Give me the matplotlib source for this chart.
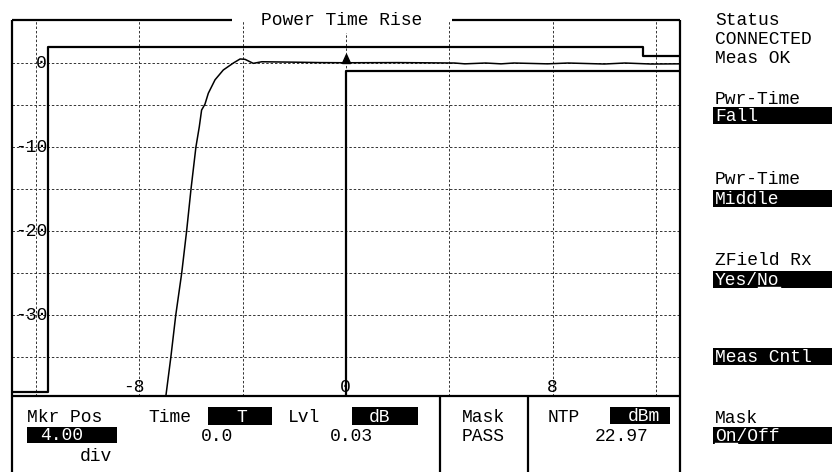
import matplotlib.pyplot as plt
from matplotlib.transforms import blended_transform_factory

# rise trace: time (bits) vs level (dB)
trace_t = [-7.3, -6.98, -6.78, -6.59, -6.36, -6.17, -6.0, -5.81, -5.68, -5.59, -5.46,
           -5.33, -5.07, -4.75, -4.36, -4.1, -3.91, -3.59, -3.26, -2.0, -1.0, 0.0,
           2.0, 4.2, 4.6, 5.4, 6.0, 6.5, 7.8, 8.6, 10.0, 10.8, 11.8, 12.93]
trace_db = [-45, -39.8, -35, -30, -25, -20, -15, -10, -7.6, -5.6, -4.9,
            -3.6, -2.0, -0.83, 0.0, 0.48, 0.44, -0.04, 0.15, 0.1, 0.05, 0.03,
            0.05, 0.0, -0.1, 0.0, -0.1, 0.0, -0.1, 0.0, -0.12, 0.0, -0.12, -0.1]

# limit mask
mask_hi_t = [-12.93, -11.54, -11.54, 11.5, 11.5, 12.93]
mask_hi_db = [-39.2, -39.2, 1.9, 1.9, 0.85, 0.85]
mask_lo_t = [0.0, 0.0, 12.93]
mask_lo_db = [-39.64, -1.0, -1.0]

# marker
mkr_t, mkr_db = 0.0, 0.03

x_grid = [-12, -8, -4, 0, 4, 8, 12]
y_grid = [0, -5, -10, -15, -20, -25, -30, -35]
x_labels = [-8, 0, 8]
y_labels = [0, -10, -20, -30]

FONT = 'Liberation Mono'
FS = 13
W, H = 832, 472

fig = plt.figure(figsize=(W / 100, H / 100), dpi=100)

# data axes
ax = fig.add_axes([12 / W, 1 - 396 / H, 668 / W, 376 / H], zorder=1)
ax.set_xlim(-12.93, 12.93)
ax.set_ylim(-39.64, 5.12)
ax.set_xticks(x_grid)
ax.set_yticks(y_grid)
ax.grid(True, color='#333333', lw=0.7, linestyle=(0, (2.5, 2)))
ax.tick_params(length=0, labelbottom=False, labelleft=False)
for s in ax.spines.values():
    s.set_visible(False)
ax.set_facecolor('none')

ax.plot(trace_t, trace_db, color='black', lw=1.1, zorder=4)
ax.plot(mask_hi_t, mask_hi_db, color='black', lw=1.6, zorder=4)
ax.plot(mask_lo_t, mask_lo_db, color='black', lw=1.6, zorder=4)
ax.plot([mkr_t], [mkr_db], marker=[(-1, 0), (1, 0), (0, 2.2), (-1, 0)],
        markersize=13, color='black', zorder=5)

tr = blended_transform_factory(ax.transAxes, ax.transData)
for v in y_labels:
    ax.text((47 - 12) / 668, v, str(v).replace('-', '−') if False else str(v),
            transform=tr, ha='right', va='center', family=FONT, fontsize=FS, zorder=5)
for v in x_labels:
    ax.annotate(str(v), xy=(v, -39.64), xytext=(5, 4), textcoords='offset pixels',
                ha='right', va='baseline', family=FONT, fontsize=FS, zorder=5)

# overlay in pixel coordinates for frame, panels and text
px = fig.add_axes([0, 0, 1, 1], zorder=3)
px.set_xlim(0, W)
px.set_ylim(H, 0)
px.axis('off')

kw = dict(color='black', lw=1.6, solid_capstyle='butt')
px.plot([11.5, 11.5], [20, H], **kw)
px.plot([680, 680], [20, H], **kw)
px.plot([11.5, 232], [20, 20], **kw)
px.plot([452, 680], [20, 20], **kw)
px.plot([11.5, 680], [396, 396], **kw)
px.plot([440, 440], [396, H], **kw)
px.plot([528, 528], [396, H], **kw)

px.text(342, 25, 'Power Time Rise', ha='center', va='baseline', family=FONT, fontsize=FS,
        bbox=dict(fc='white', ec='none', pad=3))


def label(x, y, s, ha='left', color='black'):
    px.text(x, y, s, ha=ha, va='baseline', family=FONT, fontsize=FS, color=color)


def box(x0, x1, y0, y1):
    px.fill([x0, x1, x1, x0], [y0, y0, y1, y1], color='black', lw=0)


# soft keys on the right
label(715, 25, 'Status')
label(715, 44, 'CONNECTED')
label(715, 63, 'Meas OK')
label(715, 104, 'Pwr-Time')
box(713, 832, 107, 124)
label(715, 121, 'Fall', color='white')
label(715, 184, 'Pwr-Time')
box(713, 832, 190, 207)
label(715, 204, 'Middle', color='white')
label(715, 265, 'ZField Rx')
box(713, 832, 271, 288)
label(715, 285, 'Yes/No', color='white')
px.plot([715 + 4 * 10.83, 715 + 6 * 10.83], [287, 287], color='white', lw=1)
box(713, 832, 348, 365)
label(715, 362, 'Meas Cntl', color='white')
label(715, 423, 'Mask')
box(713, 832, 427, 444)
label(715, 441, 'On/Off', color='white')
px.plot([715, 715 + 2 * 10.83], [443, 443], color='white', lw=1)

# bottom readout panel
label(27, 422, 'Mkr Pos')
box(27, 117, 427, 443)
label(40, 440, '4.00', color='white')
label(80, 461, 'div')
label(148, 422, 'Time')
box(208, 272, 407, 425)
label(242, 422, 'T', ha='center', color='white')
label(233, 441, '0.0', ha='right')
label(288, 422, 'Lvl')
box(352, 418, 407, 425)
label(380, 422, 'dB', ha='center', color='white')
label(373, 441, '0.03', ha='right')
label(462, 422, 'Mask')
label(462, 441, 'PASS')
label(548, 422, 'NTP')
box(610, 670, 407, 424)
label(644, 421, 'dBm', ha='center', color='white')
label(648, 441, '22.97', ha='right')

fig.savefig('out.png', dpi=100, facecolor='white')
